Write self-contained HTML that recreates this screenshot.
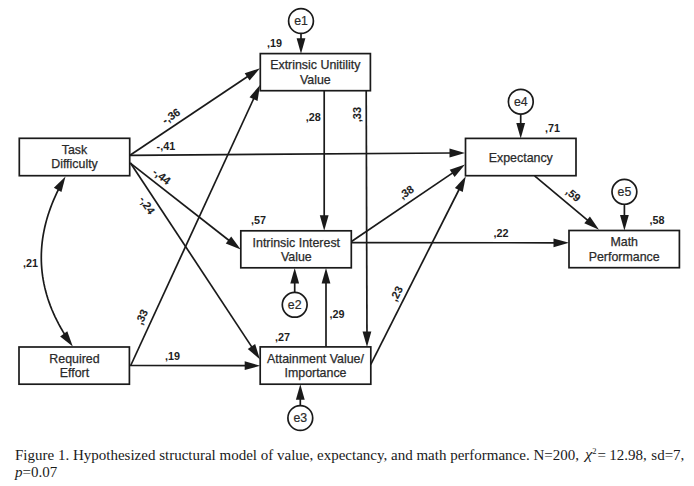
<!DOCTYPE html>
<html><head><meta charset="utf-8">
<style>
html,body{margin:0;padding:0;background:#fff;}
body{width:694px;height:486px;overflow:hidden;position:relative;}
svg{position:absolute;left:0;top:0;}
.sh line,.sh rect,.sh circle,.sh polyline{fill:none;stroke:#1a1a1a;stroke-width:1.7;}
.sh rect, .sh circle{fill:none;}
.sh polygon.ah{fill:#1a1a1a;stroke:none;}
text{font-family:"Liberation Sans",sans-serif;fill:#2a2a2a;}
text.bx{font-size:12.4px;stroke:#2a2a2a;stroke-width:0.25px;}
text.ci{font-size:12.3px;stroke:#2a2a2a;stroke-width:0.2px;}
text.lb{font-size:10.8px;font-weight:bold;fill:#1e1e1e;}
text.rt{stroke:#1e1e1e;stroke-width:0.1px;font-size:11px;}
.cap{position:absolute;left:15px;top:446px;font-family:"Liberation Serif",serif;font-size:15px;color:#1a1a1a;line-height:17.5px;white-space:nowrap;}
</style></head><body>
<svg width="694" height="486" viewBox="0 0 694 486">
<g class="sh">
<rect x="19.3" y="138.3" width="110.40" height="37.40"/>
<rect x="19" y="347" width="110.40" height="37.20"/>
<rect x="260.3" y="53.6" width="110.10" height="37.10"/>
<rect x="240.8" y="230.8" width="110.50" height="37.00"/>
<rect x="260.2" y="346.9" width="110.60" height="37.30"/>
<rect x="465.5" y="138.4" width="110.50" height="37.30"/>
<rect x="569" y="230.5" width="110.40" height="37.20"/>
<circle cx="301" cy="21" r="12.4"/>
<circle cx="294.7" cy="304.8" r="12.4"/>
<circle cx="300.3" cy="418" r="12.4"/>
<circle cx="520.8" cy="101.7" r="12.4"/>
<circle cx="624.4" cy="191.85" r="12.4"/>
<line x1="301" y1="33.4" x2="301.0" y2="40.3"/>
<polygon class="ah" points="301.00,53.80 296.60,38.30 305.40,38.30"/>
<line x1="294.7" y1="292.4" x2="294.7" y2="281.5"/>
<polygon class="ah" points="294.70,268.00 299.10,283.50 290.30,283.50"/>
<line x1="300.3" y1="405.6" x2="300.3" y2="397.7"/>
<polygon class="ah" points="300.30,384.20 304.70,399.70 295.90,399.70"/>
<line x1="520.7" y1="114.3" x2="520.7" y2="124.9"/>
<polygon class="ah" points="520.70,138.40 516.30,122.90 525.10,122.90"/>
<line x1="624.4" y1="204.2" x2="624.4" y2="217.1"/>
<polygon class="ah" points="624.40,230.60 620.00,215.10 628.80,215.10"/>
<line x1="130" y1="155.3" x2="248.78" y2="75.71"/>
<polygon class="ah" points="260.00,68.20 249.57,80.48 244.67,73.17"/>
<line x1="130" y1="155.3" x2="451.5" y2="153.0"/>
<polygon class="ah" points="465.00,152.90 449.53,157.41 449.47,148.61"/>
<line x1="130.3" y1="163.2" x2="230.07" y2="241.28"/>
<polygon class="ah" points="240.70,249.60 225.78,243.51 231.21,236.58"/>
<line x1="130.3" y1="162.7" x2="252.57" y2="348.13"/>
<polygon class="ah" points="260.00,359.40 247.79,348.88 255.14,344.04"/>
<line x1="130.7" y1="365.5" x2="254.35" y2="97.26"/>
<polygon class="ah" points="260.00,85.00 257.51,100.92 249.52,97.23"/>
<line x1="129.4" y1="365.5" x2="246.7" y2="365.68"/>
<polygon class="ah" points="260.20,365.70 244.69,370.08 244.71,361.28"/>
<line x1="324.2" y1="90.7" x2="324.2" y2="217.3"/>
<polygon class="ah" points="324.20,230.80 319.80,215.30 328.60,215.30"/>
<line x1="366.2" y1="90.7" x2="366.96" y2="333.4"/>
<polygon class="ah" points="367.00,346.90 362.55,331.41 371.35,331.39"/>
<line x1="326" y1="346.9" x2="326.0" y2="281.5"/>
<polygon class="ah" points="326.00,268.00 330.40,283.50 321.60,283.50"/>
<line x1="351.5" y1="241.5" x2="453.82" y2="172.17"/>
<polygon class="ah" points="465.00,164.60 454.64,176.94 449.70,169.65"/>
<line x1="351.3" y1="242.6" x2="555.5" y2="242.79"/>
<polygon class="ah" points="569.00,242.80 553.50,247.19 553.50,238.39"/>
<line x1="370.8" y1="364.3" x2="459.71" y2="188.25"/>
<polygon class="ah" points="465.80,176.20 462.74,192.02 454.88,188.05"/>
<line x1="534.6" y1="175.9" x2="588.65" y2="221.14"/>
<polygon class="ah" points="599.00,229.80 584.29,223.23 589.94,216.48"/>
<polyline points="58.79,188.83 56.90,192.70 55.12,196.56 53.44,200.42 51.88,204.27 50.42,208.12 49.07,211.96 47.83,215.79 46.69,219.62 45.67,223.43 44.75,227.25 43.94,231.05 43.24,234.85 42.64,238.65 42.16,242.43 41.78,246.22 41.51,249.99 41.34,253.76 41.29,257.52 41.34,261.27 41.50,265.02 41.77,268.77 42.15,272.50 42.63,276.23 43.23,279.95 43.93,283.67 44.74,287.38 45.65,291.08 46.68,294.78 47.81,298.47 49.05,302.16 50.40,305.84 51.85,309.51 53.42,313.17 55.09,316.83 56.87,320.48 58.76,324.13 60.75,327.77 62.85,331.40 65.07,335.03"/>
<polygon class="ah" points="65.50,176.50 61.45,192.09 53.86,187.64"/>
<polygon class="ah" points="72.80,346.50 60.15,336.52 67.28,331.36"/>
</g>
<text class="bx" x="74.5" y="153.8" text-anchor="middle">Task</text>
<text class="bx" x="74.5" y="168.3" text-anchor="middle">Difficulty</text>
<text class="bx" x="74.5" y="362.9" text-anchor="middle">Required</text>
<text class="bx" x="74.5" y="376.9" text-anchor="middle">Effort</text>
<text class="bx" x="315.3" y="69.3" text-anchor="middle">Extrinsic Unitility</text>
<text class="bx" x="315.3" y="84.0" text-anchor="middle">Value</text>
<text class="bx" x="296.3" y="246.8" text-anchor="middle">Intrinsic Interest</text>
<text class="bx" x="296.3" y="261.1" text-anchor="middle">Value</text>
<text class="bx" x="315.5" y="362.7" text-anchor="middle">Attainment Value/</text>
<text class="bx" x="315.5" y="376.8" text-anchor="middle">Importance</text>
<text class="bx" x="520.8" y="161.7" text-anchor="middle">Expectancy</text>
<text class="bx" x="624.2" y="246.2" text-anchor="middle">Math</text>
<text class="bx" x="624.2" y="261.0" text-anchor="middle">Performance</text>
<text class="ci" x="301" y="25.4" text-anchor="middle">e1</text>
<text class="ci" x="294.7" y="309.2" text-anchor="middle">e2</text>
<text class="ci" x="300.3" y="422.4" text-anchor="middle">e3</text>
<text class="ci" x="520.8" y="106.10000000000001" text-anchor="middle">e4</text>
<text class="ci" x="624.4" y="196.25" text-anchor="middle">e5</text>
<text class="lb" x="267" y="47.3" text-anchor="start">,19</text>
<text class="lb" x="545" y="132.2" text-anchor="start">,71</text>
<text class="lb" x="251" y="224.4" text-anchor="start">,57</text>
<text class="lb" x="275" y="340.5" text-anchor="start">,27</text>
<text class="lb" x="649.5" y="223.8" text-anchor="start">,58</text>
<text class="lb" x="305.8" y="120.9" text-anchor="start">,28</text>
<text class="lb" x="329.6" y="317.7" text-anchor="start">,29</text>
<text class="lb" x="165" y="360.0" text-anchor="start">,19</text>
<text class="lb" x="493.5" y="236.8" text-anchor="start">,22</text>
<text class="lb" x="23.0" y="267.1" text-anchor="start">,21</text>
<text class="lb" x="156.6" y="149.85" text-anchor="start">-,41</text>
<text class="lb rt" x="0" y="3.5" text-anchor="middle" transform="translate(171.3 116.4) rotate(-33.7)">-,36</text>
<text class="lb rt" x="0" y="3.5" text-anchor="middle" transform="translate(161.5 176.6) rotate(38)">-,44</text>
<text class="lb rt" x="0" y="3.5" text-anchor="middle" transform="translate(146.8 205.4) rotate(57)">-,24</text>
<text class="lb rt" x="0" y="3.5" text-anchor="middle" transform="translate(142.0 317.1) rotate(-65.2)">,33</text>
<text class="lb rt" x="0" y="3.5" text-anchor="middle" transform="translate(357.2 114.6) rotate(-90)">,33</text>
<text class="lb rt" x="0" y="3.5" text-anchor="middle" transform="translate(406.6 192.4) rotate(-34.4)">,38</text>
<text class="lb rt" x="0" y="3.5" text-anchor="middle" transform="translate(396.7 293.8) rotate(-63)">,23</text>
<text class="lb rt" x="0" y="3.5" text-anchor="middle" transform="translate(573.0 194.9) rotate(40)">,59</text>
</svg>
<div class="cap" style="top:446.6px">Figure 1. Hypothesized structural model of value, expectancy, and math performance. N=200,</div>
<div class="cap" style="left:585px;top:446.1px;transform:scaleX(1.12);transform-origin:0 0"><i>&#967;</i></div>
<div class="cap" style="left:592.2px;top:443.2px;font-size:8.5px">2</div>
<div class="cap" style="left:597.6px;top:446.6px">=</div>
<div class="cap" style="left:609.2px;top:446.6px">12.98,</div>
<div class="cap" style="left:651.3px;top:446.6px">sd=7,</div>
<div class="cap" style="top:464.1px"><i>p</i>=0.07</div>
</body></html>
